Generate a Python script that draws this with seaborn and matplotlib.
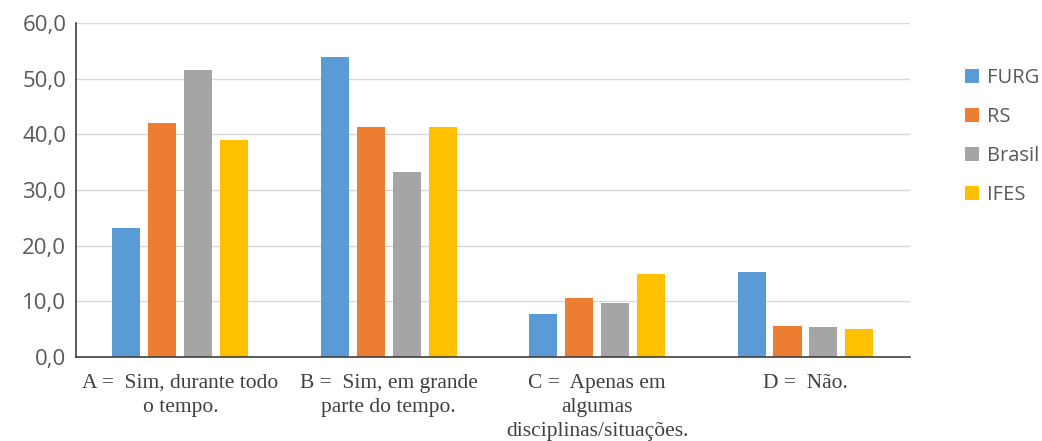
import pandas as pd
import matplotlib.pyplot as plt
import seaborn as sns

# categorias e series
categorias = ['A =  Sim, durante todo\no tempo.',
              'B =  Sim, em grande\nparte do tempo.',
              'C =  Apenas em\nalgumas\ndisciplinas/situações.',
              'D =  Não.']
furg = [23.2, 53.8, 7.8, 15.3]
rs = [42.1, 41.4, 10.7, 5.6]
brasil = [51.6, 33.3, 9.8, 5.5]
ifes = [38.9, 41.4, 14.9, 5.0]
series = ['FURG', 'RS', 'Brasil', 'IFES']
cores = ['#5B9BD5', '#ED7D31', '#A5A5A5', '#FFC000']

df = pd.DataFrame({'cat': categorias * 4,
                   'grupo': sum([[s] * 4 for s in series], []),
                   'valor': furg + rs + brasil + ifes})

sns.set_style('white')
plt.rcParams['font.family'] = ['Open Sans', 'DejaVu Sans']

fig = plt.figure(figsize=(10.42, 4.41), dpi=100)
ax = fig.add_axes([0.073, 0.19, 0.80, 0.758])

sns.barplot(data=df, x='cat', y='valor', hue='grupo', palette=cores,
            width=0.69, gap=0.22, ax=ax, saturation=1, edgecolor='none')

ax.set_ylim(0, 60)
ax.set_yticks(range(0, 61, 10))
ax.set_yticklabels([f'{v},0' for v in range(0, 61, 10)], fontsize=16, color='#595959')
ax.set_xticks(range(4))
ax.set_xticklabels(categorias, fontsize=15.5, family='Liberation Serif', color='#404040',
                   linespacing=1.35)
ax.tick_params(axis='y', length=0, pad=7)
ax.tick_params(axis='x', length=0, pad=12)
ax.set_xlabel('')
ax.set_ylabel('')
ax.set_xlim(-0.5, 3.5)
ax.grid(axis='y', color='#D9D9D9', linewidth=1)
ax.set_axisbelow(True)
for s in ['top', 'right']:
    ax.spines[s].set_visible(False)
ax.spines['left'].set_color('#404040')
ax.spines['bottom'].set_color('#404040')
ax.spines['left'].set_linewidth(1.2)
ax.spines['bottom'].set_linewidth(1.2)

leg = ax.legend(loc='upper left', bbox_to_anchor=(1.045, 0.92), frameon=False,
                fontsize=14.5, handlelength=0.7, handleheight=0.7, handletextpad=0.4,
                labelspacing=0.95, labelcolor='#595959')

fig.savefig('out.png', dpi=100)
